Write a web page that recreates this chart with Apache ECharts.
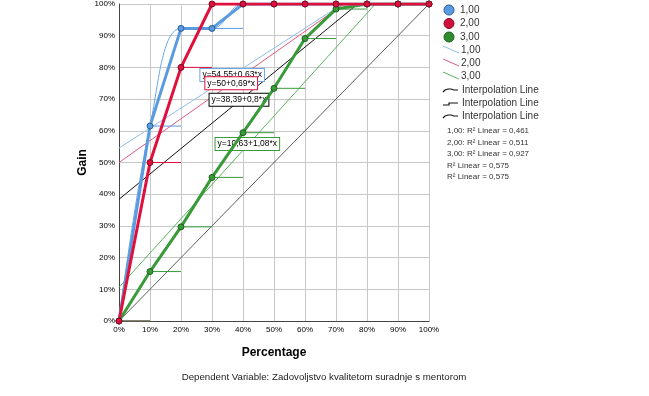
<!DOCTYPE html>
<html>
<head>
<meta charset="utf-8">
<script src="https://cdn.jsdelivr.net/npm/echarts@6/dist/echarts.min.js"></script>
<style>
    html, body { margin: 0; padding: 0; background: #fff; }
    #chart { width: 649px; height: 396px; }
</style>
</head>
<body>
<div id="chart"></div>
<script>
// ==================== 数据 ====================
var pct = [0, 10, 20, 30, 40, 50, 60, 70, 80, 90, 100];
var gain1 = [0, 61.5, 92.3, 92.3, 100, 100, 100, 100, 100, 100, 100];
var gain2 = [0, 50, 80, 100, 100, 100, 100, 100, 100, 100, 100];
var gain3 = [0, 15.6, 29.7, 45.3, 59.4, 73.4, 89.1, 98.4, 100, 100, 100];

// fit lines, endpoints (clipped at 100%)
var fit1 = [[0, 54.55], [72.1, 100]];
var fit2 = [[0, 50], [72.5, 100]];
var fit3 = [[0, 10.63], [82.7, 100]];
var fitAll = [[0, 38.39], [77, 100]];
var diagonal = [[0, 0], [100, 100]];

var fitLabels = ['y=54,55+0,63*x', 'y=50+0,69*x', 'y=10,63+1,08*x', 'y=38,39+0,8*x'];
var groupNames = ['1,00', '2,00', '3,00'];
var r2Texts = ['1,00: R² Linear = 0,461', '2,00: R² Linear = 0,511', '3,00: R² Linear = 0,927',
    'R² Linear = 0,575', 'R² Linear = 0,575'];

var blue = '#5a9be0', red = '#e0103c', green = '#399a39';
var font = 'Liberation Sans, Arial, sans-serif';

function pairs(xs, ys) {
    var out = [];
    for (var i = 0; i < xs.length; i++) out.push([xs[i], ys[i]]);
    return out;
}
// horizontal "jump" segments from each point to the next x
function steps(xs, ys) {
    var out = [];
    for (var i = 0; i < xs.length - 1; i++) {
        out.push([xs[i], ys[i]], [xs[i + 1], ys[i]], ['-', '-']);
    }
    return out;
}

var myChart = echarts.init(document.getElementById('chart'));

function gainSeries(name, ys, color, border) {
    return {
        name: name, type: 'line', data: pairs(pct, ys), z: 5,
        symbol: 'circle', symbolSize: 6,
        lineStyle: { color: color, width: 3 },
        itemStyle: { color: color, borderColor: border, borderWidth: 1 }
    };
}
function thinLine(data, color, width, extra) {
    var s = {
        type: 'line', data: data, symbol: 'none', silent: true,
        lineStyle: { color: color, width: width }
    };
    for (var k in extra) s[k] = extra[k];
    return s;
}
function fitLabel(text, coord, color) {
    return {
        symbol: 'rect', symbolSize: 0, silent: true,
        data: [{
            coord: coord,
            label: {
                show: true, position: 'inside', formatter: text,
                fontFamily: font, fontSize: 8.5, color: '#000',
                backgroundColor: '#fff', borderColor: color, borderWidth: 1,
                padding: [2, 2, 1, 2]
            }
        }]
    };
}

var option = {
    animation: false,
    grid: { left: 119, right: 220, top: 4, bottom: 75 },
    xAxis: {
        type: 'value', min: 0, max: 100, interval: 10,
        name: 'Percentage', nameLocation: 'middle', nameGap: 26,
        nameTextStyle: { fontFamily: font, fontSize: 12, fontWeight: 'bold', color: '#000' },
        axisLine: { lineStyle: { color: '#444', width: 1 } },
        axisTick: { show: false },
        axisLabel: { formatter: '{value}%', fontFamily: font, fontSize: 8, color: '#000', margin: 5 },
        splitLine: { show: true, lineStyle: { color: '#c8c8c8', width: 1 } }
    },
    yAxis: {
        type: 'value', min: 0, max: 100, interval: 10,
        name: 'Gain', nameLocation: 'middle', nameGap: 30,
        nameTextStyle: { fontFamily: font, fontSize: 12, fontWeight: 'bold', color: '#000' },
        axisLine: { show: true, lineStyle: { color: '#444', width: 1 } },
        axisTick: { show: false },
        axisLabel: { formatter: '{value}%', fontFamily: font, fontSize: 8, color: '#000', margin: 4 },
        splitLine: { show: true, lineStyle: { color: '#c8c8c8', width: 1 } }
    },
    series: [
        thinLine(diagonal, '#333', 0.8),
        thinLine(fit1, '#8fbdee', 1),
        thinLine(fit2, '#e25a80', 1),
        thinLine(fit3, '#5db35d', 1),
        thinLine(fitAll, '#111', 1),
        thinLine(steps(pct, gain1), blue, 1),
        thinLine(steps(pct, gain2), red, 1),
        thinLine(steps(pct, gain3), green, 1),
        thinLine(pairs(pct, gain1), '#6aa6e6', 1, { smooth: 0.4 }),
        gainSeries(groupNames[2], gain3, green, '#1d5e1d'),
        gainSeries(groupNames[0], gain1, blue, '#2b5c99'),
        gainSeries(groupNames[1], gain2, red, '#7a0a20'),
        // equation boxes
        thinLine([], blue, 1, { markPoint: fitLabel(fitLabels[0], [36.5, 77.6], '#6aa6e6'), z: 10 }),
        thinLine([], red, 1, { markPoint: fitLabel(fitLabels[1], [36.2, 75], red), z: 11 }),
        thinLine([], '#000', 1, { markPoint: fitLabel(fitLabels[3], [38.7, 69.8], '#000'), z: 11 }),
        thinLine([], green, 1, { markPoint: fitLabel(fitLabels[2], [41.4, 55.8], green), z: 11 })
    ],
    graphic: []
};

// ==================== 图例 ====================
var lx = 449, tx = 460;
var g = option.graphic;
var legendY = [10, 23.5, 37, 50, 63, 76, 90, 103, 116];
var dotCols = [['#5a9be0', '#2b5c99'], ['#d0103a', '#7a0a20'], ['#2e8b2e', '#1d5e1d']];
for (var i = 0; i < 3; i++) {
    g.push({ type: 'circle', shape: { cx: lx, cy: legendY[i], r: 5 },
        style: { fill: dotCols[i][0], stroke: dotCols[i][1], lineWidth: 1 } });
    g.push({ type: 'text', x: tx, y: legendY[i], style: { text: groupNames[i], font: '10px ' + font, fill: '#333', verticalAlign: 'middle' } });
}
var lineCols = ['#8fbdee', '#e25a80', '#5db35d'];
for (var i = 0; i < 3; i++) {
    var y = legendY[3 + i];
    g.push({ type: 'line', shape: { x1: lx - 6, y1: y - 4, x2: lx + 10, y2: y + 3 }, style: { stroke: lineCols[i], lineWidth: 1 } });
    g.push({ type: 'text', x: tx + 1, y: y, style: { text: groupNames[i], font: '10px ' + font, fill: '#333', verticalAlign: 'middle' } });
}
var icons = [
    [[443, 2], [445, 0], [448, -1], [451, -1], [454, 0], [458, 0]],
    [[443, 2], [449, 2], [449, 0], [458, 0]],
    [[443, 2], [445, 0], [448, -1], [451, -1], [454, 0], [458, 0]]
];
for (var i = 0; i < 3; i++) {
    var y = legendY[6 + i];
    g.push({ type: 'polyline', y: y, shape: { points: icons[i] }, style: { stroke: '#111', fill: null, lineWidth: 1.2 } });
    g.push({ type: 'text', x: tx + 2, y: y, style: { text: 'Interpolation Line', font: '10px ' + font, fill: '#333', verticalAlign: 'middle' } });
}
var r2Y = [131, 142.5, 154, 166, 177];
for (var i = 0; i < r2Texts.length; i++) {
    g.push({ type: 'text', x: 447, y: r2Y[i], style: { text: r2Texts[i], font: '8px ' + font, fill: '#333', verticalAlign: 'middle' } });
}
g.push({ type: 'text', x: 324, y: 377, style: {
    text: 'Dependent Variable: Zadovoljstvo kvalitetom suradnje s mentorom',
    font: '9.7px ' + font, fill: '#222', align: 'center', verticalAlign: 'middle' } });

myChart.setOption(option);
</script>
</body>
</html>
